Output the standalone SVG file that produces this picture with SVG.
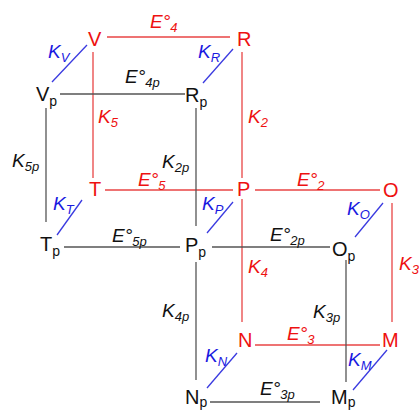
<svg xmlns="http://www.w3.org/2000/svg" width="419" height="410" viewBox="0 0 419 410">
<style>
text{font-family:"Liberation Sans",Arial,sans-serif}
.n{font-size:20px}
.s{font-size:14px}
.l{font-size:19px;font-style:italic}
.ls{font-size:13px}
.red{fill:#ee1111}
.blk{fill:#111}
.blu{fill:#1a1ae0}
.rl{stroke:#e84545;stroke-width:1.3;fill:none}
.bl{stroke:#555;stroke-width:1.3;fill:none}
.ul{stroke:#3a3ae0;stroke-width:1.3;fill:none}
</style>
<rect width="419" height="410" fill="#fff"/>
<g id="connectors">
<line class="rl" x1="107" y1="37" x2="230" y2="37"/>
<line class="rl" x1="93" y1="52" x2="93" y2="178"/>
<line class="rl" x1="242" y1="52" x2="242" y2="178"/>
<line class="rl" x1="105" y1="190" x2="233" y2="190"/>
<line class="rl" x1="255" y1="190" x2="380" y2="190"/>
<line class="rl" x1="242" y1="199" x2="242" y2="322"/>
<line class="rl" x1="392" y1="203" x2="392" y2="322"/>
<line class="rl" x1="255" y1="345" x2="380" y2="345"/>
<line class="bl" x1="60" y1="94" x2="185" y2="94"/>
<line class="bl" x1="46" y1="108" x2="46" y2="222"/>
<line class="bl" x1="196" y1="108" x2="196" y2="226"/>
<line class="bl" x1="64" y1="247" x2="180" y2="247"/>
<line class="bl" x1="212" y1="247" x2="330" y2="247"/>
<line class="bl" x1="196" y1="262" x2="196" y2="380"/>
<line class="bl" x1="346" y1="260" x2="346" y2="382"/>
<line class="bl" x1="210" y1="402" x2="320" y2="402"/>
<line class="ul" x1="52" y1="82" x2="87" y2="45"/>
<line class="ul" x1="203" y1="83" x2="233" y2="49"/>
<line class="ul" x1="57" y1="235" x2="82" y2="200"/>
<line class="ul" x1="207" y1="233" x2="233" y2="202"/>
<line class="ul" x1="355" y1="237" x2="383" y2="203"/>
<line class="ul" x1="207" y1="388" x2="237" y2="353"/>
<line class="ul" x1="353" y1="390" x2="387" y2="350"/>
</g>
<g id="V"><text class="n red" x="88" y="46">V</text></g>
<g id="R"><text class="n red" x="237" y="46">R</text></g>
<g id="T"><text class="n red" x="89" y="196">T</text></g>
<g id="P"><text class="n red" x="237" y="196">P</text></g>
<g id="O"><text class="n red" x="383" y="197">O</text></g>
<g id="N"><text class="n red" x="238" y="347">N</text></g>
<g id="M"><text class="n red" x="382" y="347">M</text></g>
<g id="Vp"><text class="n blk" x="36" y="101">V<tspan class="s" dy="5">p</tspan></text></g>
<g id="Rp"><text class="n blk" x="185" y="102">R<tspan class="s" dy="5">p</tspan></text></g>
<g id="Tp"><text class="n blk" x="40" y="251">T<tspan class="s" dy="5">p</tspan></text></g>
<g id="Pp"><text class="n blk" x="185" y="252">P<tspan class="s" dy="5">p</tspan></text></g>
<g id="Op"><text class="n blk" x="332" y="256">O<tspan class="s" dy="5">p</tspan></text></g>
<g id="Np"><text class="n blk" x="185" y="404">N<tspan class="s" dy="3">p</tspan></text></g>
<g id="Mp"><text class="n blk" x="331" y="404">M<tspan class="s" dy="3">p</tspan></text></g>
<g id="labels">
<text class="l red" x="150" y="28">E°<tspan class="ls" dy="4">4</tspan></text>
<text class="l blk" x="125" y="83">E°<tspan class="ls" dy="4">4p</tspan></text>
<text class="l red" x="98" y="123">K<tspan class="ls" dy="4">5</tspan></text>
<text class="l red" x="248" y="123">K<tspan class="ls" dy="4">2</tspan></text>
<text class="l blu" x="48" y="58">K<tspan class="ls" dy="4">V</tspan></text>
<text class="l blu" x="198" y="58">K<tspan class="ls" dy="4">R</tspan></text>
<text class="l blk" x="12" y="167">K<tspan class="ls" dy="4">5p</tspan></text>
<text class="l blk" x="162" y="168">K<tspan class="ls" dy="4">2p</tspan></text>
<text class="l red" x="138" y="186">E°<tspan class="ls" dy="4">5</tspan></text>
<text class="l blu" x="53" y="210">K<tspan class="ls" dy="4">T</tspan></text>
<text class="l blk" x="112" y="242">E°<tspan class="ls" dy="4">5p</tspan></text>
<text class="l red" x="297" y="186">E°<tspan class="ls" dy="4">2</tspan></text>
<text class="l blu" x="202" y="210">K<tspan class="ls" dy="4">P</tspan></text>
<text class="l blu" x="347" y="215">K<tspan class="ls" dy="4">O</tspan></text>
<text class="l blk" x="270" y="241">E°<tspan class="ls" dy="4">2p</tspan></text>
<text class="l red" x="248" y="273">K<tspan class="ls" dy="4">4</tspan></text>
<text class="l red" x="399" y="270">K<tspan class="ls" dy="4">3</tspan></text>
<text class="l blk" x="162" y="317">K<tspan class="ls" dy="4">4p</tspan></text>
<text class="l blk" x="313" y="318">K<tspan class="ls" dy="4">3p</tspan></text>
<text class="l red" x="287" y="340">E°<tspan class="ls" dy="4">3</tspan></text>
<text class="l blu" x="205" y="362">K<tspan class="ls" dy="4">N</tspan></text>
<text class="l blu" x="348" y="366">K<tspan class="ls" dy="4">M</tspan></text>
<text class="l blk" x="260" y="395">E°<tspan class="ls" dy="4">3p</tspan></text>
</g>
</svg>
